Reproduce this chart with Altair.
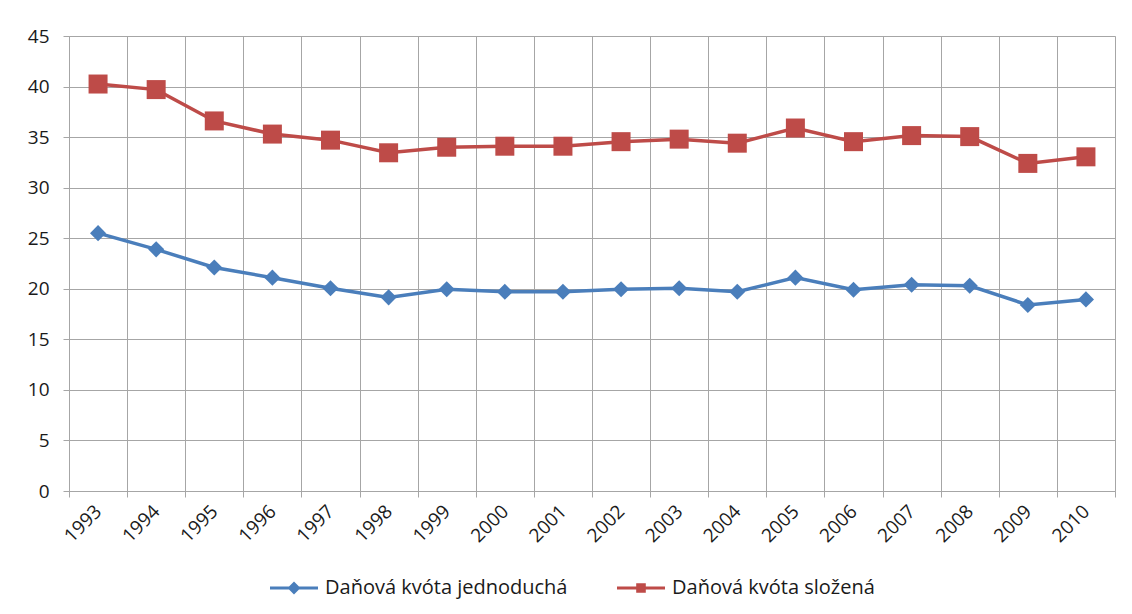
import altair as alt
import pandas as pd

years = [str(y) for y in range(1993, 2011)]
jednoducha = [25.5, 23.9, 22.1, 21.1, 20.05, 19.15, 19.95, 19.7, 19.7, 19.95,
              20.05, 19.7, 21.1, 19.9, 20.4, 20.3, 18.4, 18.95]
slozena = [40.25, 39.7, 36.6, 35.3, 34.7, 33.45, 34.0, 34.1, 34.1, 34.55,
           34.8, 34.4, 35.9, 34.55, 35.15, 35.05, 32.4, 33.05]
series_names = ["Daňová kvóta jednoduchá", "Daňová kvóta složená"]
colors = ["#4a7ebb", "#be4b48"]

rows = []
for i, y in enumerate(years):
    rows.append({"rok": y, "serie": series_names[0], "hodnota": jednoducha[i]})
    rows.append({"rok": y, "serie": series_names[1], "hodnota": slozena[i]})
df = pd.DataFrame(rows)

FONT = "Open Sans"
GRID = "#a6a6a6"

x_enc = alt.X("rok:O", sort=years,
              scale=alt.Scale(paddingInner=0, paddingOuter=0),
              axis=alt.Axis(title=None, tickBand="extent", grid=True, gridColor=GRID,
                            domainColor=GRID, tickColor=GRID, tickSize=6,
                            labelAngle=-45, labelAlign="right", labelBaseline="middle",
                            labelPadding=11, labelFontSize=19, labelFont=FONT,
                            labelColor="#1a1a1a"))
y_enc = alt.Y("hodnota:Q",
              scale=alt.Scale(domain=[0, 45], nice=False),
              axis=alt.Axis(title=None, values=list(range(0, 50, 5)), grid=True,
                            gridColor=GRID, domainColor=GRID, tickColor=GRID, tickSize=6,
                            labelPadding=14, labelFontSize=19, labelFont=FONT,
                            labelColor="#1a1a1a"))

base = alt.Chart(df)

def series_layers(name, color, shape, size):
    sub = base.transform_filter(alt.datum.serie == name)
    ln = sub.mark_line(strokeWidth=3.5, color=color).encode(x=x_enc, y=y_enc)
    pt = sub.mark_point(shape=shape, filled=True, size=size, opacity=1,
                        color=color).encode(x=x_enc, y=y_enc)
    return [ln, pt]

layers = series_layers(series_names[0], colors[0], "diamond", 260) + \
         series_layers(series_names[1], colors[1], "square", 361)

legend_shapes = [
    "M-1,-0.065H1V0.065H-1Z M0,-0.27L0.27,0L0,0.27L-0.27,0Z",
    "M-1,-0.065H1V0.065H-1Z M-0.2,-0.2H0.2V0.2H-0.2Z",
]

leg = alt.Legend(title=None, orient="none", direction="horizontal",
                 legendX=200, legendY=527, symbolSize=2304,
                 labelFontSize=20, labelFont=FONT, labelColor="#1a1a1a",
                 labelLimit=0, columnPadding=46, labelOffset=6, symbolOpacity=1)

legend_layer = base.transform_filter("datum.hodnota < -1000").mark_point(
    filled=True, size=2304, opacity=1
).encode(
    x=x_enc, y=y_enc,
    color=alt.Color("serie:N", scale=alt.Scale(domain=series_names, range=colors),
                    legend=leg),
    shape=alt.Shape("serie:N", scale=alt.Scale(domain=series_names, range=legend_shapes),
                    legend=leg),
)

chart = alt.layer(*layers, legend_layer).properties(
    width=1046, height=455,
    autosize=alt.AutoSizeParams(type="none"),
    padding={"left": 61, "top": 28, "right": 9, "bottom": 115},
).configure_view(stroke=GRID, strokeWidth=1).configure(background="#ffffff")

chart.save("out.html", embed_options={"renderer": "svg", "actions": False})
